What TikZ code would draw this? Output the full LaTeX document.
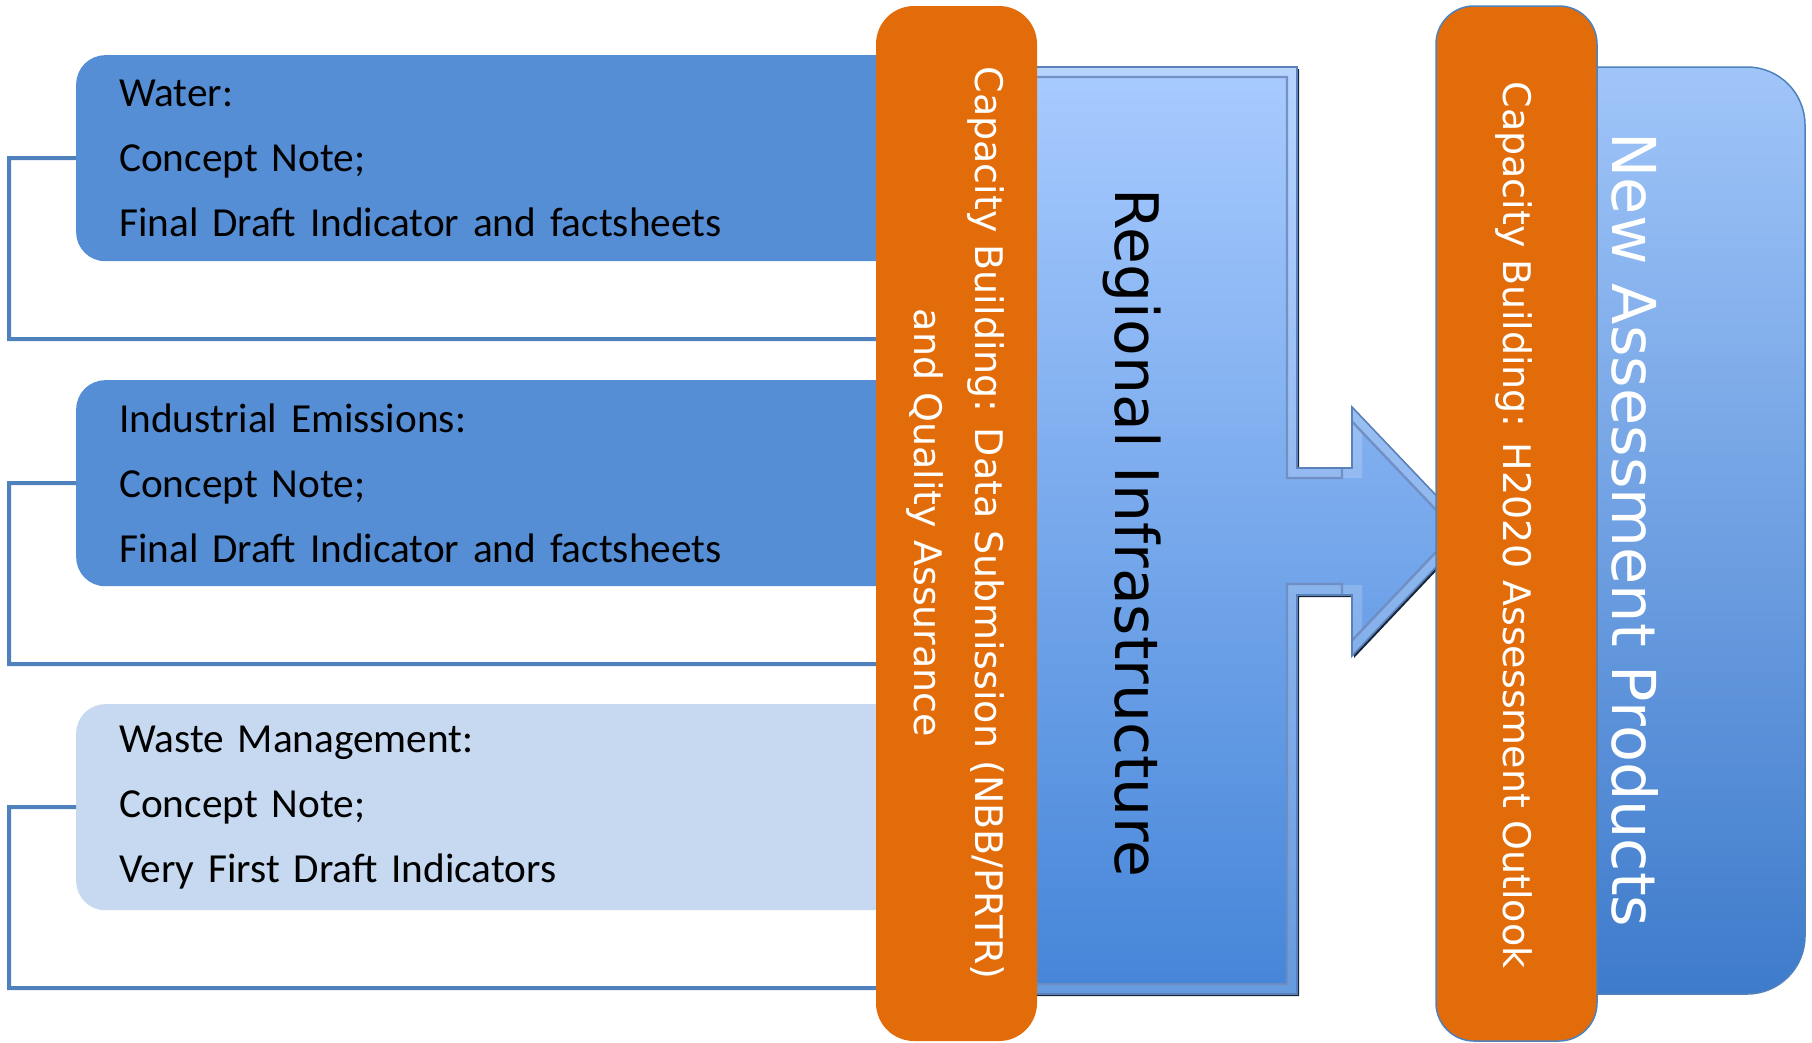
\documentclass[tikz,border=0pt]{standalone}
\usepackage{fontspec}
\setmainfont{DejaVu Sans}
\newfontfamily\carlitofont{Carlito}
\newfontfamily\dejavufont{DejaVu Sans}
\definecolor{barorange}{HTML}{E36C0A}
\definecolor{boxblue}{HTML}{558ED5}
\definecolor{boxlight}{HTML}{C6D9F1}
\definecolor{linkblue}{HTML}{4F81BD}
\definecolor{arrowtop}{HTML}{A8CBFF}
\definecolor{arrowbot}{HTML}{4585D8}
\definecolor{arrowedge}{HTML}{5A82B8}
\definecolor{arrowshadow}{HTML}{16243A}
\definecolor{arrowinner}{HTML}{6F8CC0}
\definecolor{prodtop}{HTML}{A0C5F9}
\definecolor{prodbot}{HTML}{3E7BCB}
\begin{document}
\begin{tikzpicture}[x=1pt,y=1pt,
  topicbox/.style={rounded corners=29pt, anchor=north west, minimum height=206pt,
    text width=798pt, inner xsep=43pt, inner ysep=0pt, align=left,
    font={\carlitofont\fontsize{41.3}{65}\selectfont}, text=black},
  bracket/.style={draw=linkblue, line width=4pt},
  barbox/.style={fill=barorange, rounded corners=38pt, minimum width=161pt,
    minimum height=1035pt, inner sep=0pt},
  bartext/.style={rotate=-90, align=center, text=white,
    font={\dejavufont\fontsize{38}{61}\selectfont}}
]
\useasboundingbox (0,0) rectangle (1812,-1042);

% topic boxes
\node[topicbox, fill=boxblue] (water) at (76,-55)
  {Water:\\Concept Note;\\Final Draft Indicator and factsheets};
\node[topicbox, fill=boxblue] (industry) at (76,-380)
  {Industrial Emissions:\\Concept Note;\\Final Draft Indicator and factsheets};
\node[topicbox, fill=boxlight] (waste) at (76,-704)
  {Waste Management:\\Concept Note;\\Very First Draft Indicators};

% regional infrastructure arrow
\def\arrowpath{(1000,-67) -- (1297,-67) -- (1297,-468) -- (1352,-468) -- (1352,-407)
  -- (1470,-531) -- (1352,-656) -- (1352,-595) -- (1297,-595) -- (1297,-994)
  -- (1000,-994) -- cycle}
\def\arrowinset{(1010,-77) -- (1287,-77) -- (1287,-478) -- (1342,-478) -- (1342,-411)
  -- (1456,-531) -- (1342,-651) -- (1342,-584) -- (1287,-584) -- (1287,-984)
  -- (1010,-984) -- cycle}
\fill[arrowshadow, shift={(2,-2)}] \arrowpath;
\fill[top color=arrowtop, bottom color=arrowbot] \arrowpath;
\begin{scope}
  \clip \arrowpath;
  \draw[white, opacity=0.18, line width=20pt, line join=miter] \arrowpath;
  \draw[arrowinner, opacity=0.9, line width=2.4pt, line join=miter] \arrowinset;
\end{scope}
\draw[arrowedge, line width=1.6pt, line join=miter] \arrowpath;
\node[rotate=-90, font={\dejavufont\fontsize{60}{70}\selectfont}, text=black]
  (regional) at (1132,-533) {Regional Infrastructure};

% new assessment products
\node[rounded corners=58pt, top color=prodtop, bottom color=prodbot,
      draw=linkblue, line width=1.5pt, minimum width=330pt, minimum height=927pt,
      inner sep=0pt] (products) at (1640,-530.5) {};
\node[rotate=-90, font={\dejavufont\fontsize{60.5}{70}\selectfont}, text=white]
  (productstext) at (1635,-530) {New Assessment Products};

% orange bars
\node[barbox] (orangeL) at (956.5,-523.5) {};
\node[barbox, draw=linkblue, line width=1.5pt] (orangeR) at (1516.5,-523.5) {};

% brackets
\draw[bracket] (water.west) -- ++(-67,0) -- ++(0,-181) -- (orangeL.west |- 0,-339);
\draw[bracket] (industry.west) -- ++(-67,0) -- ++(0,-181) -- (orangeL.west |- 0,-664);
\draw[bracket] (waste.west) -- ++(-67,0) -- ++(0,-181) -- (orangeL.west |- 0,-988);

% bar texts
\node[bartext] (capdata) at (955,-523)
  {Capacity Building: Data Submission (NBB/PRTR)\\and Quality Assurance};
\node[bartext] (caph2020) at (1514,-525)
  {Capacity Building: H2020 Assessment Outlook};
\end{tikzpicture}
\end{document}
